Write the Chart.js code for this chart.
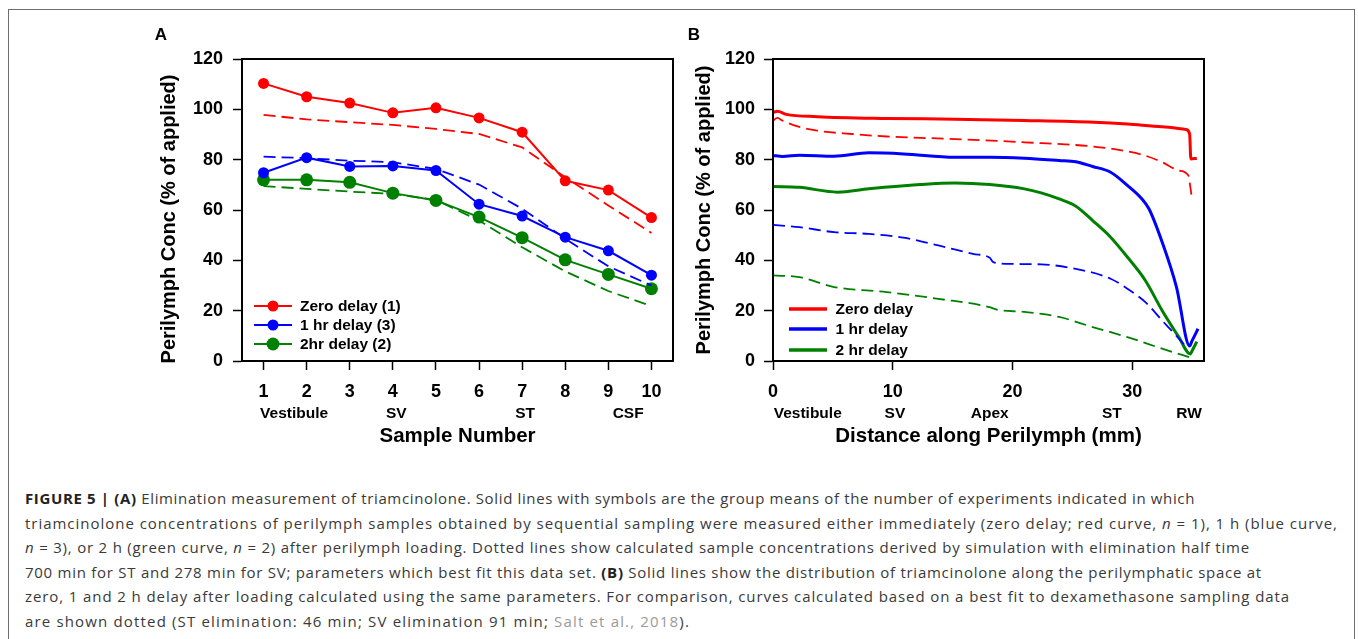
<!DOCTYPE html>
<html>
<head>
<meta charset="utf-8">
<script src="https://cdn.jsdelivr.net/npm/chart.js@4.4.1/dist/chart.umd.min.js"></script>
<style>
    html, body { margin: 0; padding: 0; background: #fff; }
    body { width: 1358px; height: 639px; position: relative; overflow: hidden; }
    #frame { position: absolute; left: 8px; top: 9px; width: 1345px; height: 700px; border: 1px solid #6e6e6e; border-bottom: none; }
    #chartA { position: absolute; left: 140px; top: 20px; }
    #chartB { position: absolute; left: 680px; top: 20px; }
    #caption { position: absolute; left: 25px; top: 486px; font-family: "Open Sans", "Liberation Sans", sans-serif; font-size: 15px; line-height: 24.6px; color: #3a3a3a; }
    #caption div { white-space: nowrap; display: block; }
    #caption span.line { display: inline-block; }
    #caption b { color: #222; }
    #caption .ref { color: #9a9a9a; }
</style>
</head>
<body>
<div id="frame"></div>
<canvas id="chartA" width="540" height="440"></canvas>
<canvas id="chartB" width="560" height="440"></canvas>
<div id="caption">
    <div><span class="line" data-w="1170"><b>FIGURE 5 | (A)</b> Elimination measurement of triamcinolone. Solid lines with symbols are the group means of the number of experiments indicated in which</span></div>
    <div><span class="line" data-w="1313">triamcinolone concentrations of perilymph samples obtained by sequential sampling were measured either immediately (zero delay; red curve, <i>n</i> = 1), 1 h (blue curve,</span></div>
    <div><span class="line" data-w="1225"><i>n</i> = 3), or 2 h (green curve, <i>n</i> = 2) after perilymph loading. Dotted lines show calculated sample concentrations derived by simulation with elimination half time</span></div>
    <div><span class="line" data-w="1237">700 min for ST and 278 min for SV; parameters which best fit this data set. <b>(B)</b> Solid lines show the distribution of triamcinolone along the perilymphatic space at</span></div>
    <div><span class="line" data-w="1265">zero, 1 and 2 h delay after loading calculated using the same parameters. For comparison, curves calculated based on a best fit to dexamethasone sampling data</span></div>
    <div><span class="line" data-w="665">are shown dotted (ST elimination: 46 min; SV elimination 91 min; <span class="ref">Salt et al., 2018</span>).</span></div>
</div>
<script>
// Panel A - sample data (measured = solid + symbols, simulated = dashed)
var sampleNumbers = [1, 2, 3, 4, 5, 6, 7, 8, 9, 10];
var zeroDelayMeasured = [110.3, 105.0, 102.5, 98.6, 100.6, 96.6, 90.9, 71.6, 67.9, 57.0];
var zeroDelaySimulated = [97.8, 96.0, 94.9, 93.8, 92.2, 90.2, 84.9, 73.0, 61.8, 50.9];
var oneHrMeasured = [74.8, 80.8, 77.3, 77.5, 75.7, 62.3, 57.6, 49.2, 43.8, 34.1];
var oneHrSimulated = [81.2, 80.6, 79.6, 79.0, 76.3, 70.1, 60.5, 48.6, 37.6, 30.0];
var twoHrMeasured = [72.0, 72.0, 71.0, 66.7, 63.8, 57.2, 49.0, 40.2, 34.4, 28.7];
var twoHrSimulated = [69.5, 68.4, 67.3, 66.4, 64.0, 55.8, 45.2, 35.6, 27.8, 21.8];

// Panel B - distance along perilymph (mm) and concentration
var bZeroSolidX = [0, 0.37, 1.1, 3.7, 9.5, 15.2, 21.0, 26.8, 29.6, 32.5, 34.5, 34.8, 34.9, 35.4];
var bZeroSolidY = [98.8, 99.2, 98.0, 97.1, 96.4, 96.1, 95.6, 94.9, 94.2, 93.1, 92.0, 90.2, 80.3, 80.5];
var bZeroDashX = [0, 0.37, 0.8, 2.2, 3.7, 6.6, 9.5, 15.2, 21.0, 26.8, 29.6, 31.1, 32.5, 33.9, 34.7, 34.8, 35.0];
var bZeroDashY = [95.5, 96.6, 95.5, 93.0, 91.5, 90.2, 89.2, 88.2, 86.9, 85.2, 83.3, 81.6, 79.0, 75.7, 73.7, 71.0, 64.4];
var bOneSolidX = [0, 0.8, 2.2, 5.1, 8.0, 10.9, 15.2, 18.1, 21.0, 23.9, 25.3, 26.7, 28.2, 29.6, 30.8, 31.4, 32.5, 33.7, 34.8, 35.0, 35.5];
var bOneSolidY = [81.7, 81.3, 81.8, 81.4, 82.7, 82.3, 81.0, 81.0, 80.6, 79.7, 79.2, 77.3, 75.0, 69.8, 64.5, 60.5, 47.3, 29.4, 6.0, 8.0, 12.8];
var bOneDashX = [0, 2.2, 5.1, 8.0, 10.9, 13.8, 16.7, 18.1, 18.4, 19.5, 22.4, 25.3, 28.2, 29.6, 31.1, 32.5, 33.9, 34.6];
var bOneDashY = [54.1, 53.2, 51.2, 50.5, 49.0, 45.9, 42.6, 41.0, 39.3, 38.6, 38.4, 36.6, 32.7, 28.7, 23.4, 16.1, 8.9, 5.0];
var bTwoSolidX = [0, 2.2, 5.4, 8.0, 12.3, 15.2, 18.1, 21.0, 22.4, 23.9, 25.3, 26.7, 28.2, 29.6, 31.1, 32.5, 33.9, 34.85, 35.0, 35.4];
var bTwoSolidY = [69.3, 69.0, 67.1, 68.4, 70.1, 70.7, 70.1, 68.4, 66.8, 64.4, 61.5, 55.8, 49.2, 41.3, 32.0, 20.1, 9.5, 2.8, 4.0, 7.7];
var bTwoDashX = [0, 2.2, 5.1, 9.5, 13.8, 18.1, 18.7, 21.0, 23.9, 26.7, 29.6, 32.5, 34.9];
var bTwoDashY = [34.0, 33.3, 29.4, 27.4, 24.7, 21.4, 20.4, 19.5, 17.5, 13.5, 9.5, 4.9, 1.3];

// Ticks and labels
var yTicks = [0, 20, 40, 60, 80, 100, 120];
var xTicksB = [0, 10, 20, 30];
var regionLabelsA = ['Vestibule', 'SV', 'ST', 'CSF'];
var regionPosA = [1.71, 4.08, 7.07, 9.46];
var regionLabelsB = ['Vestibule', 'SV', 'Apex', 'ST', 'RW'];
var regionPosB = [2.9, 10.18, 18.1, 28.3, 34.75];
var legendLabelsA = ['Zero delay (1)', '1 hr delay (3)', '2hr delay (2)'];
var legendLabelsB = ['Zero delay', '1 hr delay', '2 hr delay'];

var RED = '#ff0000', BLUE = '#0000ff', GREEN = '#008000';
var FONT = '"Liberation Sans", Arial, sans-serif';
var yTitle = 'Perilymph Conc (% of applied)';

// stretch each caption line to the width it has in the printed figure
document.querySelectorAll('#caption span.line').forEach(function (el) {
    var target = +el.getAttribute('data-w');
    var n = el.textContent.length;
    var w = el.getBoundingClientRect().width;
    el.style.letterSpacing = ((target - w) / n).toFixed(3) + 'px';
});

function points(xs, ys) {
    return xs.map(function (x, i) { return { x: x, y: ys[i] }; });
}

function makeAxes(xMin, xMax, xTicks, xTitle, yWidth, yPad) {
    var tickFont = { family: FONT, size: 18, weight: 'bold' };
    return {
        x: {
            type: 'linear', min: xMin, max: xMax,
            afterBuildTicks: function (s) { s.ticks = xTicks.map(function (v) { return { value: v }; }); },
            afterFit: function (s) { s.height = 99; },
            grid: { drawOnChartArea: false, tickLength: 9, tickWidth: 1.5, tickColor: '#000' },
            border: { display: true, color: '#000', width: 2 },
            ticks: { color: '#000', font: tickFont, padding: 11, maxRotation: 0, autoSkip: false },
            title: { display: true, text: xTitle, color: '#000', font: { family: FONT, size: 20.5, weight: 'bold' }, padding: { top: 0, bottom: 11 } }
        },
        y: {
            min: 0, max: 120,
            afterBuildTicks: function (s) { s.ticks = yTicks.map(function (v) { return { value: v }; }); },
            afterFit: function (s) { s.width = yWidth; },
            grid: { drawOnChartArea: false, tickLength: 9, tickWidth: 1.5, tickColor: '#000' },
            border: { display: true, color: '#000', width: 2 },
            ticks: { color: '#000', font: tickFont, padding: yPad }
        }
    };
}

// frame, region labels, y title, panel letter and legend
function overlay(o) {
    return {
        id: 'overlay',
        afterDraw: function (chart) {
            var ctx = chart.ctx, a = chart.chartArea, xs = chart.scales.x;
            ctx.save();
            ctx.strokeStyle = '#000';
            ctx.lineWidth = 2;
            ctx.strokeRect(a.left, a.top, a.right - a.left, a.bottom - a.top);

            ctx.fillStyle = '#000';
            ctx.textAlign = 'center';
            ctx.textBaseline = 'middle';
            ctx.font = 'bold 15.5px ' + FONT;
            o.regions.forEach(function (lbl, i) {
                ctx.fillText(lbl, xs.getPixelForValue(o.regionPos[i]), 394);
            });

            ctx.font = 'bold 17px ' + FONT;
            ctx.fillText(o.letter, o.letterX, 15);

            ctx.save();
            ctx.translate(o.titleX, o.titleY);
            ctx.rotate(-Math.PI / 2);
            ctx.font = 'bold 20px ' + FONT;
            ctx.fillText(yTitle, 0, 0);
            ctx.restore();

            ctx.textAlign = 'left';
            ctx.font = 'bold 15.5px ' + FONT;
            o.legend.forEach(function (lbl, i) {
                var y = o.legendY[i];
                ctx.strokeStyle = o.colors[i];
                ctx.fillStyle = o.colors[i];
                ctx.lineWidth = o.legendLineWidth;
                ctx.beginPath();
                ctx.moveTo(o.legendX0, y);
                ctx.lineTo(o.legendX1, y);
                ctx.stroke();
                if (o.markers) {
                    ctx.beginPath();
                    ctx.arc((o.legendX0 + o.legendX1) / 2, y, o.markers[i], 0, Math.PI * 2);
                    ctx.fill();
                }
                ctx.fillStyle = '#000';
                ctx.fillText(lbl, o.legendText, y + 1);
            });
            ctx.restore();
        }
    };
}

var dashed = [12, 6];

// Panel A
new Chart(document.getElementById('chartA').getContext('2d'), {
    type: 'line',
    data: {
        datasets: [
            { data: points(sampleNumbers, zeroDelaySimulated), borderColor: RED, borderWidth: 1.8, borderDash: dashed, pointRadius: 0 },
            { data: points(sampleNumbers, oneHrSimulated), borderColor: BLUE, borderWidth: 1.8, borderDash: dashed, pointRadius: 0 },
            { data: points(sampleNumbers, twoHrSimulated), borderColor: GREEN, borderWidth: 1.8, borderDash: dashed, pointRadius: 0 },
            { data: points(sampleNumbers, zeroDelayMeasured), borderColor: RED, backgroundColor: RED, borderWidth: 2, pointRadius: 5.5, pointBorderWidth: 0 },
            { data: points(sampleNumbers, oneHrMeasured), borderColor: BLUE, backgroundColor: BLUE, borderWidth: 2, pointRadius: 5.5, pointBorderWidth: 0 },
            { data: points(sampleNumbers, twoHrMeasured), borderColor: GREEN, backgroundColor: GREEN, borderWidth: 2, pointRadius: 6.5, pointBorderWidth: 0 }
        ]
    },
    options: {
        responsive: false,
        animation: false,
        layout: { padding: { top: 39, right: 7, left: 0, bottom: 0 } },
        plugins: { legend: { display: false }, tooltip: { enabled: false } },
        scales: makeAxes(0.5, 10.5, sampleNumbers, 'Sample Number', 102, 10)
    },
    plugins: [overlay({
        regions: regionLabelsA, regionPos: regionPosA,
        letter: 'A', letterX: 21, titleX: 29.5, titleY: 199,
        legend: legendLabelsA, colors: [RED, BLUE, GREEN], markers: [5.5, 5.5, 6.5],
        legendLineWidth: 2, legendX0: 114, legendX1: 152, legendText: 160, legendY: [286, 305, 324]
    })]
});

// Panel B
new Chart(document.getElementById('chartB').getContext('2d'), {
    type: 'line',
    data: {
        datasets: [
            { data: points(bZeroDashX, bZeroDashY), borderColor: RED, borderWidth: 1.8, borderDash: dashed },
            { data: points(bOneDashX, bOneDashY), borderColor: BLUE, borderWidth: 1.8, borderDash: dashed },
            { data: points(bTwoDashX, bTwoDashY), borderColor: GREEN, borderWidth: 1.8, borderDash: dashed },
            { data: points(bZeroSolidX, bZeroSolidY), borderColor: RED, borderWidth: 3 },
            { data: points(bOneSolidX, bOneSolidY), borderColor: BLUE, borderWidth: 3 },
            { data: points(bTwoSolidX, bTwoSolidY), borderColor: GREEN, borderWidth: 3 }
        ]
    },
    options: {
        responsive: false,
        animation: false,
        layout: { padding: { top: 39, right: 36, left: 0, bottom: 0 } },
        elements: { point: { radius: 0 }, line: { cubicInterpolationMode: 'monotone' } },
        plugins: { legend: { display: false }, tooltip: { enabled: false } },
        scales: makeAxes(0, 36, xTicksB, 'Distance along Perilymph (mm)', 93, 9)
    },
    plugins: [overlay({
        regions: regionLabelsB, regionPos: regionPosB,
        letter: 'B', letterX: 14, titleX: 24, titleY: 190,
        legend: legendLabelsB, colors: [RED, BLUE, GREEN], markers: null,
        legendLineWidth: 3.5, legendX0: 109, legendX1: 147, legendText: 155.5, legendY: [289, 309, 330]
    })]
});
</script>
</body>
</html>
